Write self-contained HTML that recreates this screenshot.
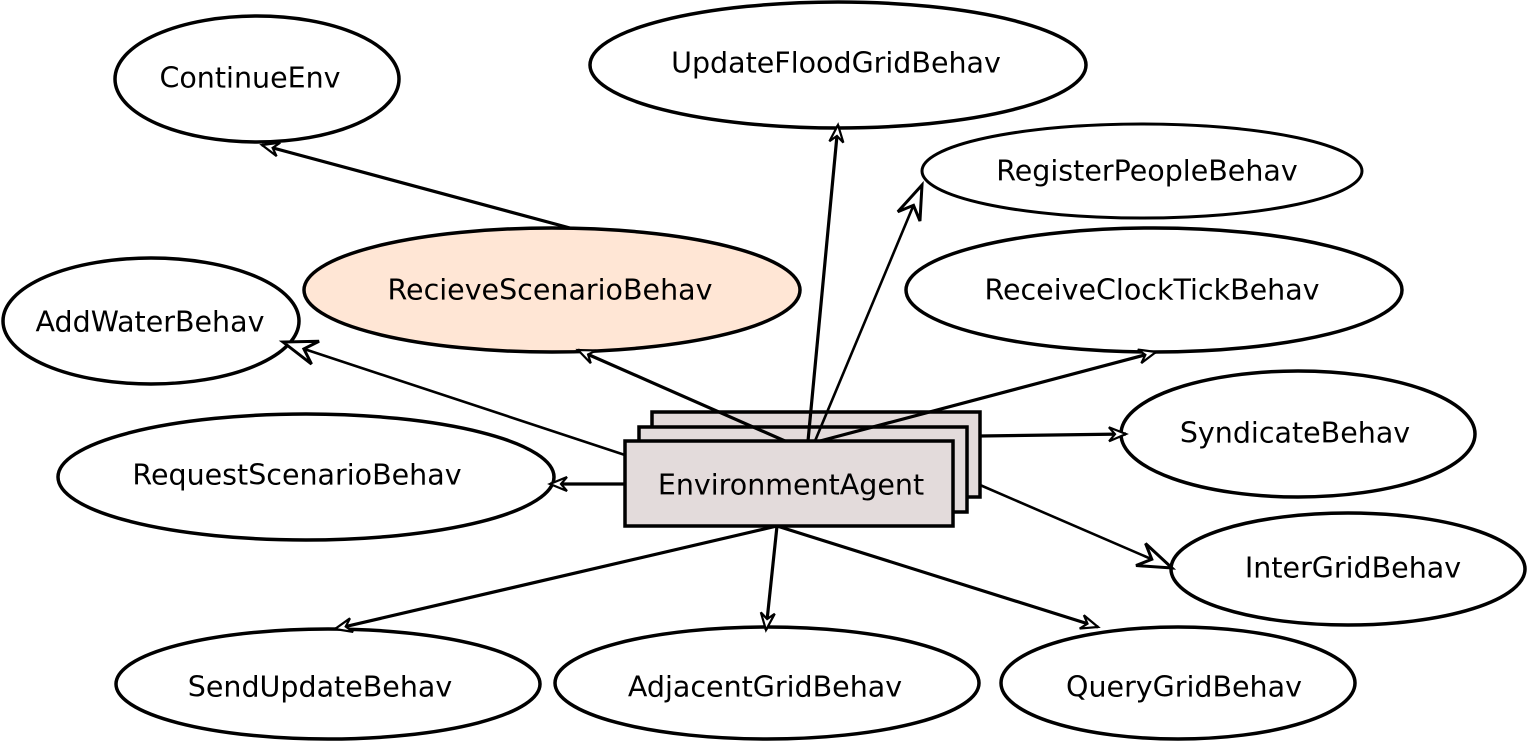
<!DOCTYPE html>
<html><head><meta charset="utf-8"><style>
html,body{margin:0;padding:0;background:#fff;}
svg{display:block;}
text{font-family:"DejaVu Sans","Liberation Sans",sans-serif;font-size:28.5px;fill:#000;text-anchor:middle;dominant-baseline:central;}
</style></head><body>
<svg width="1527" height="741" viewBox="0 0 1527 741" xmlns="http://www.w3.org/2000/svg">
<defs>
<marker id="s" markerUnits="userSpaceOnUse" markerWidth="40" markerHeight="40" refX="0" refY="0" viewBox="-20 -20 40 40" orient="auto" overflow="visible">
<path d="M0,0 L-17,-7 L-11,0 L-17,7 Z" fill="#fff" stroke="#000" stroke-width="2.2" stroke-linejoin="miter"/>
</marker>
<marker id="b" markerUnits="userSpaceOnUse" markerWidth="80" markerHeight="80" refX="0" refY="0" viewBox="-40 -40 80 80" orient="auto" overflow="visible">
<path d="M0,0 L-34,-12 L-22,0 L-34,12 Z" fill="#fff" stroke="#000" stroke-width="3" stroke-linejoin="miter"/>
</marker>
</defs>
<g fill="#fff" stroke="#000" stroke-width="3.5">
<ellipse cx="257" cy="79" rx="142" ry="63"/>
<ellipse cx="838" cy="65" rx="248" ry="63"/>
<ellipse cx="1142" cy="171" rx="220" ry="47" stroke-width="3"/>
<ellipse cx="552" cy="290" rx="248" ry="62" fill="#ffe6d5"/>
<ellipse cx="1154" cy="290" rx="248" ry="62"/>
<ellipse cx="151" cy="321" rx="148" ry="63"/>
<ellipse cx="1298" cy="434" rx="177" ry="63"/>
<ellipse cx="306" cy="477" rx="248" ry="63"/>
<ellipse cx="1348" cy="569" rx="177" ry="56"/>
<ellipse cx="328" cy="684" rx="212" ry="55"/>
<ellipse cx="767" cy="683" rx="212" ry="56"/>
<ellipse cx="1178" cy="683" rx="177" ry="56"/>
</g>
<g fill="#e3dbdb" stroke="#000" stroke-width="3.5">
<rect x="652" y="412" width="328" height="85"/>
<rect x="639" y="427" width="328" height="85"/>
<rect x="625" y="441" width="328" height="85"/>
</g>
<g stroke="#000" stroke-width="3.2" fill="none">
<line x1="570" y1="228" x2="262" y2="145" marker-end="url(#s)"/>
<line x1="808" y1="441" x2="838" y2="125" marker-end="url(#s)"/>
<line x1="815" y1="441" x2="922" y2="185" marker-end="url(#b)" stroke-width="2.6"/>
<line x1="785" y1="441" x2="578" y2="350" marker-end="url(#s)"/>
<line x1="820" y1="441" x2="1156" y2="352" marker-end="url(#s)"/>
<line x1="625" y1="455" x2="283" y2="342" marker-end="url(#b)" stroke-width="2.6"/>
<line x1="980" y1="436" x2="1126" y2="434" marker-end="url(#s)"/>
<line x1="625" y1="484" x2="550" y2="484" marker-end="url(#s)"/>
<line x1="980" y1="485" x2="1172" y2="568" marker-end="url(#b)" stroke-width="2.6"/>
<line x1="777" y1="526" x2="335" y2="629" marker-end="url(#s)"/>
<line x1="777" y1="526" x2="766" y2="630" marker-end="url(#s)"/>
<line x1="777" y1="526" x2="1098" y2="627" marker-end="url(#s)"/>
</g>
<text x="250" y="78">ContinueEnv</text>
<text x="836" y="63">UpdateFloodGridBehav</text>
<text x="1147" y="171">RegisterPeopleBehav</text>
<text x="550" y="290">RecieveScenarioBehav</text>
<text x="1152" y="290">ReceiveClockTickBehav</text>
<text x="150" y="322">AddWaterBehav</text>
<text x="1295" y="433">SyndicateBehav</text>
<text x="297" y="475">RequestScenarioBehav</text>
<text x="1353" y="568">InterGridBehav</text>
<text x="320" y="687">SendUpdateBehav</text>
<text x="765" y="687">AdjacentGridBehav</text>
<text x="1184" y="687">QueryGridBehav</text>
<text x="791" y="485">EnvironmentAgent</text>
</svg>
</body></html>
